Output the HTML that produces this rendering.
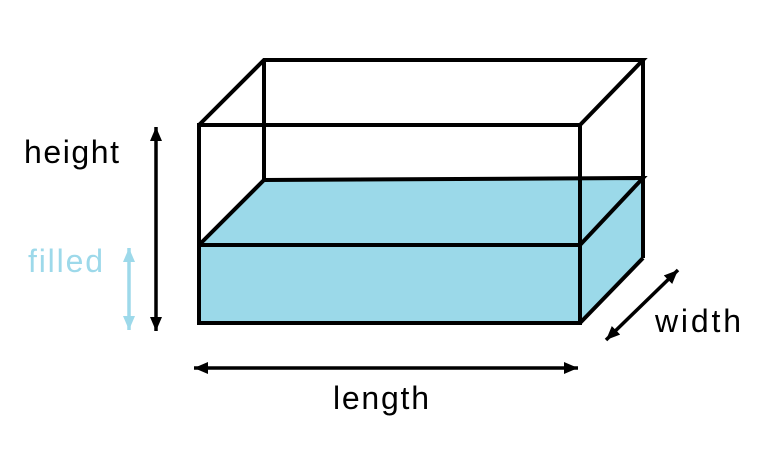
<!DOCTYPE html>
<html><head><meta charset="utf-8"><style>
html,body{margin:0;padding:0;background:#fff;}
svg{display:block;}
text{font-family:"Liberation Sans",Arial,sans-serif;font-size:32px;}
</style></head><body>
<svg width="765" height="473" viewBox="0 0 765 473" xmlns="http://www.w3.org/2000/svg">
<defs>
<marker id="ab" markerWidth="14" markerHeight="12" refX="14" refY="6" orient="auto-start-reverse" markerUnits="userSpaceOnUse" viewBox="0 0 14 12">
<path d="M0,0 L14,6 L0,12 Z" fill="#000"/></marker>
<marker id="ac" markerWidth="14" markerHeight="12" refX="14" refY="6" orient="auto-start-reverse" markerUnits="userSpaceOnUse" viewBox="0 0 14 12">
<path d="M0,0 L14,6 L0,12 Z" fill="#9dd9ea"/></marker>
</defs>
<polygon points="199,245 264,180 643,178 643,258 580,323 199,323" fill="#9bd9e9"/>
<g fill="none" stroke="#000" stroke-width="4" stroke-linejoin="miter">
<rect x="199" y="125" width="381" height="198"/>
<polyline points="199,125 264,60 643,60 580,125"/>
<line x1="264" y1="60" x2="264" y2="180"/>
<line x1="643" y1="60" x2="643" y2="258"/>
<line x1="580" y1="323" x2="643" y2="258"/>
<polyline points="199,245 264,180 643,178 580,245 199,245"/>
</g>
<g stroke="#000" stroke-width="3.5">
<line x1="156" y1="127" x2="156" y2="331" marker-start="url(#ab)" marker-end="url(#ab)"/>
<line x1="194" y1="368" x2="578" y2="368" marker-start="url(#ab)" marker-end="url(#ab)"/>
<line x1="606" y1="340" x2="678" y2="270" marker-start="url(#ab)" marker-end="url(#ab)"/>
</g>
<line x1="129" y1="248" x2="129" y2="330" stroke="#9dd9ea" stroke-width="3.5" marker-start="url(#ac)" marker-end="url(#ac)"/>
<text x="24" y="163" textLength="95">height</text>
<text x="28" y="272" fill="#9dd9ea" textLength="75">filled</text>
<text x="655" y="332" textLength="86">width</text>
<text x="333" y="409" textLength="96">length</text>
</svg>
</body></html>
